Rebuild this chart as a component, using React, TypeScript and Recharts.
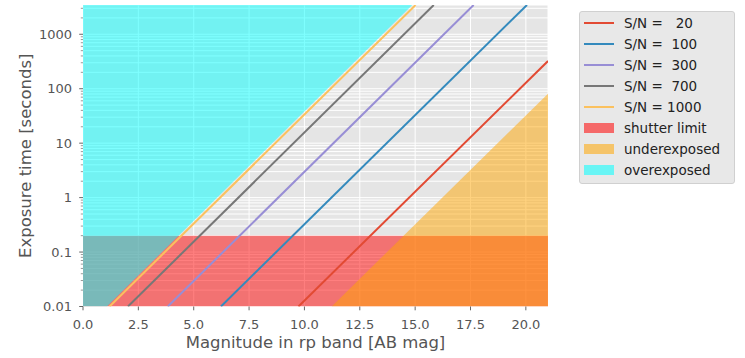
import React from 'react';
import { ComposedChart, Line, Area, XAxis, YAxis, CartesianGrid } from 'recharts';

// ---- data ----
const T_MIN = 0.01;
const T_MAX = 3450;
const MAG_MAX = 21;

const snLabels = ['S/N =   20', 'S/N =  100', 'S/N =  300', 'S/N =  700', 'S/N = 1000'];
const snColors = ['#E24A33', '#348ABD', '#988ED5', '#777777', '#FBC15E'];

const sn20 = [{ mag: 9.73, t: 0.01 }, { mag: 21, t: 323 }];
const sn100 = [{ mag: 6.23, t: 0.01 }, { mag: 20.05, t: 3450 }];
const sn300 = [{ mag: 3.83, t: 0.01 }, { mag: 17.64, t: 3450 }];
const sn700 = [{ mag: 2.03, t: 0.01 }, { mag: 15.84, t: 3450 }];
const sn1000 = [{ mag: 1.2, t: 0.01 }, { mag: 15.02, t: 3450 }];
const snSeries = [sn20, sn100, sn300, sn700, sn1000];

const shutterLimit = [
  { mag: 0, t: [0.01, 0.2] },
  { mag: 21, t: [0.01, 0.2] },
];
const underexposed = [
  { mag: 11.23, t: [0.01, 0.01] },
  { mag: 21, t: [0.01, 81] },
];
const overexposed = [
  { mag: 0, t: [0.01, 3450] },
  { mag: 1.08, t: [0.01, 3450] },
  { mag: 14.87, t: [3450, 3450] },
];

const regionLabels = ['shutter limit', 'underexposed', 'overexposed'];
const regionColors = ['#FF0000', '#FFA500', '#00FFFF'];

const xTicks = [0, 2.5, 5, 7.5, 10, 12.5, 15, 17.5, 20];
const yMajorTicks = [0.01, 0.1, 1, 10, 100, 1000];
const yMinorMantissas = [2, 3, 4, 5, 6, 7, 8, 9];
const yAllTicks = [
  ...yMajorTicks,
  ...yMajorTicks.flatMap((d) => yMinorMantissas.map((m) => +(m * d).toPrecision(3))),
].filter((v) => v <= T_MAX).sort((a, b) => a - b);

// ---- layout ----
const W = 745;
const H = 358;
const PLOT_LEFT = 83;
const PLOT_TOP = 5;
const PLOT_RIGHT = 548;
const PLOT_BOTTOM = 306.5;
const FONT = 'DejaVu Sans, sans-serif';

const YTick = (props: any) => {
  const { y, payload } = props;
  const v = payload.value;
  const major = yMajorTicks.some((m) => Math.abs(m - v) / m < 1e-6);
  return (
    <g>
      <line
        x1={PLOT_LEFT - (major ? 3.8 : 2.2)}
        x2={PLOT_LEFT}
        y1={y}
        y2={y}
        stroke="#555"
        strokeWidth={major ? 0.9 : 0.6}
      />
      {major && (
        <text x={PLOT_LEFT - 11} y={y} dy="0.36em" textAnchor="end" fontFamily={FONT} fontSize={13} fill="#555">
          {String(v)}
        </text>
      )}
    </g>
  );
};

const XTick = (props: any) => {
  const { x, payload } = props;
  return (
    <g>
      <line x1={x} x2={x} y1={PLOT_BOTTOM} y2={PLOT_BOTTOM + 3.8} stroke="#555" strokeWidth={0.9} />
      <text x={x} y={PLOT_BOTTOM + 22} textAnchor="middle" fontFamily={FONT} fontSize={13} fill="#555">
        {payload.value.toFixed(1)}
      </text>
    </g>
  );
};

const XLabel = (props: any) => {
  const vb = props.viewBox || { x: PLOT_LEFT, y: PLOT_BOTTOM, width: PLOT_RIGHT - PLOT_LEFT, height: H - PLOT_BOTTOM };
  return (
    <text x={vb.x + vb.width / 2} y={vb.y + 41.5} textAnchor="middle" fontFamily={FONT} fontSize={16.5} fill="#555">
      Magnitude in rp band [AB mag]
    </text>
  );
};

const YLabel = (props: any) => {
  const vb = props.viewBox || { x: 0, y: PLOT_TOP, width: PLOT_LEFT, height: PLOT_BOTTOM - PLOT_TOP };
  const cx = 25;
  const cy = vb.y + vb.height / 2;
  return (
    <text
      x={cx}
      y={cy}
      transform={`rotate(-90 ${cx} ${cy})`}
      textAnchor="middle"
      dominantBaseline="central"
      fontFamily={FONT}
      fontSize={16.5}
      fill="#555"
    >
      Exposure time [seconds]
    </text>
  );
};

const LegendBox = () => (
  <div
    style={{
      position: 'absolute',
      left: 579,
      top: 11,
      width: 150,
      background: '#E8E8E8',
      border: '1px solid #D0D0D0',
      borderRadius: 3,
      padding: '0 0 3px 4px',
      fontFamily: FONT,
      fontSize: 13.5,
      color: '#222',
      boxSizing: 'content-box',
    }}
  >
    {snLabels.map((l, i) => (
      <div key={l} style={{ height: 21, display: 'flex', alignItems: 'center' }}>
        <div style={{ width: 30, height: 2, background: snColors[i], marginRight: 10 }} />
        <span style={{ whiteSpace: 'pre' }}>{l}</span>
      </div>
    ))}
    {regionLabels.map((l, i) => (
      <div key={l} style={{ height: 21, display: 'flex', alignItems: 'center' }}>
        <div
          style={{
            width: 30,
            height: 10,
            background: regionColors[i],
            opacity: 0.55,
            marginRight: 10,
          }}
        />
        <span style={{ whiteSpace: 'pre' }}>{l}</span>
      </div>
    ))}
  </div>
);

export default function App() {
  return (
    <div style={{ position: 'absolute', left: 0, top: 0, width: W, height: H, background: '#fff' }}>
      <ComposedChart
        width={W}
        height={H}
        margin={{ top: PLOT_TOP, right: W - PLOT_RIGHT, bottom: 0, left: 0 }}
      >
        <CartesianGrid stroke="#FFFFFF" strokeWidth={1} fill="#E5E5E5" fillOpacity={1} />
        <XAxis
          dataKey="mag"
          type="number"
          domain={[0, MAG_MAX]}
          ticks={xTicks}
          allowDataOverflow
          height={H - PLOT_BOTTOM}
          axisLine={false}
          tickLine={false}
          tick={<XTick />}
          interval={0}
          label={<XLabel />}
        />
        <YAxis
          dataKey="t"
          type="number"
          scale="log"
          domain={[T_MIN, T_MAX]}
          ticks={yAllTicks}
          allowDataOverflow
          width={PLOT_LEFT}
          axisLine={false}
          tickLine={false}
          tick={<YTick />}
          interval={0}
          label={<YLabel />}
        />
        <Area
          data={shutterLimit}
          dataKey="t"
          type="linear"
          stroke="none"
          fill={regionColors[0]}
          fillOpacity={0.5}
          isAnimationActive={false}
        />
        <Area
          data={underexposed}
          dataKey="t"
          type="linear"
          stroke="none"
          fill={regionColors[1]}
          fillOpacity={0.5}
          isAnimationActive={false}
        />
        <Area
          data={overexposed}
          dataKey="t"
          type="linear"
          stroke="none"
          fill={regionColors[2]}
          fillOpacity={0.5}
          isAnimationActive={false}
        />
        {snSeries.map((s, i) => (
          <Line
            key={snLabels[i]}
            data={s}
            dataKey="t"
            type="linear"
            stroke={snColors[i]}
            strokeWidth={2}
            dot={false}
            activeDot={false}
            isAnimationActive={false}
          />
        ))}
      </ComposedChart>
      <LegendBox />
    </div>
  );
}
